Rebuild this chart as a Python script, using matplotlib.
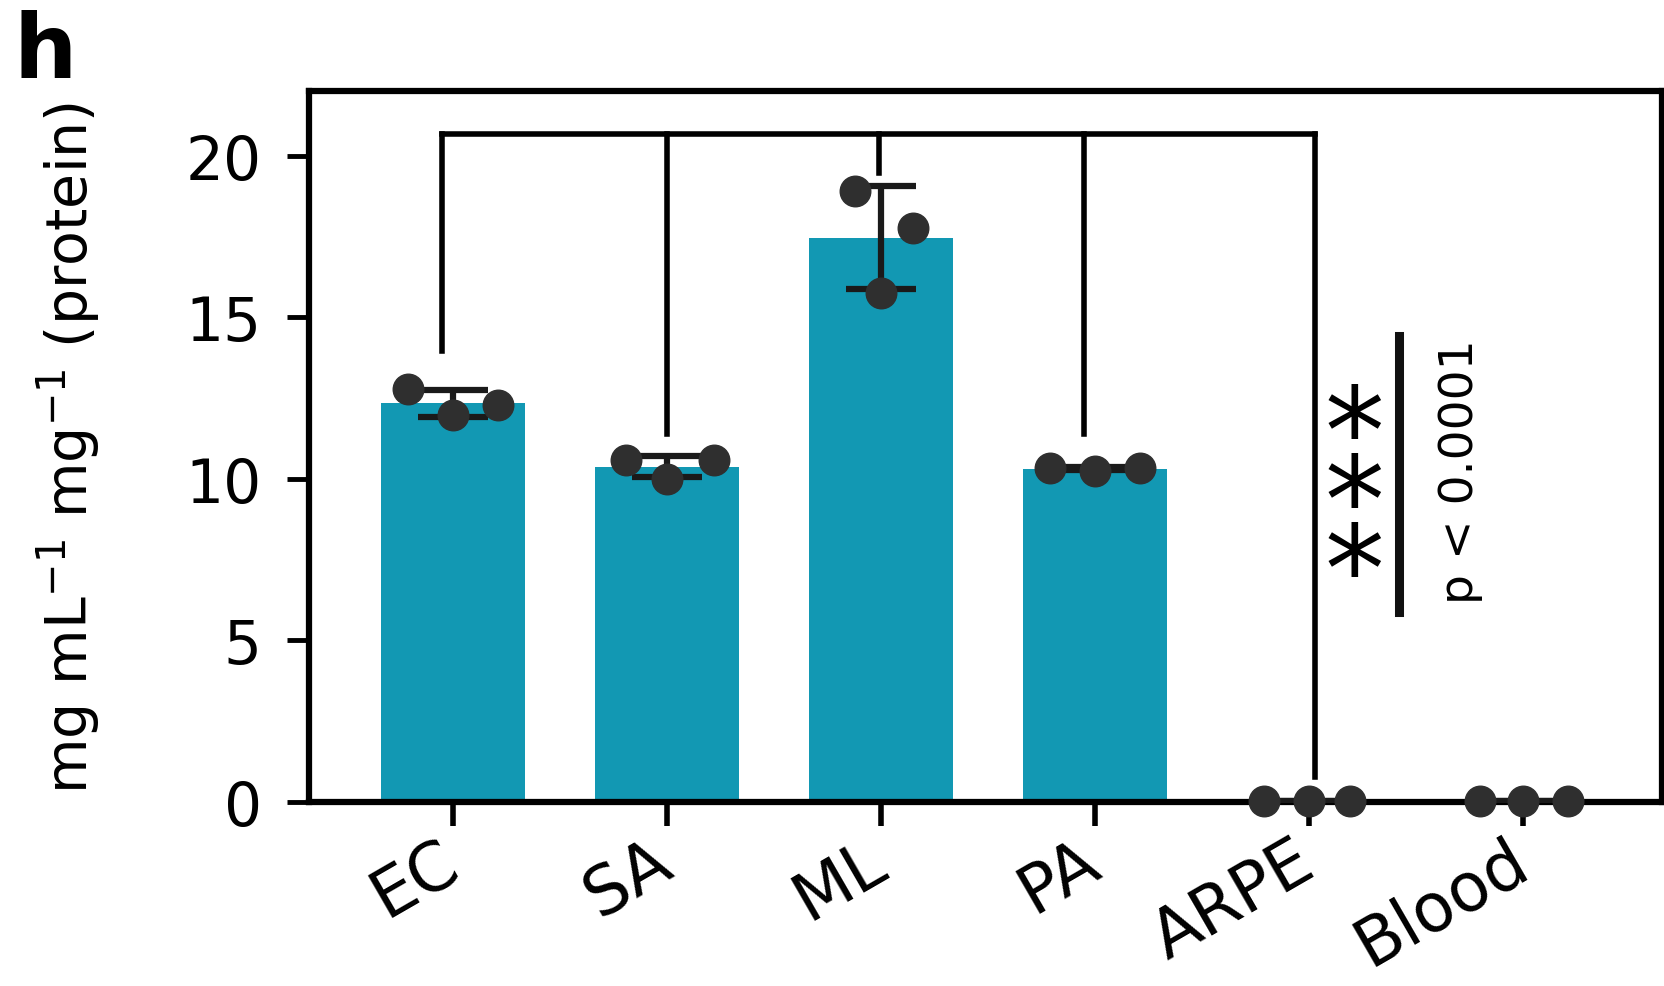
import numpy as np
import matplotlib
matplotlib.use("Agg")
import matplotlib.pyplot as plt
from matplotlib.transforms import ScaledTranslation

plt.rcParams["font.family"] = ["DejaVu Sans"]
plt.rcParams["mathtext.fontset"] = "dejavusans"

# replicate measurements per group (mg mL-1 per mg protein)
categories = ["EC", "SA", "ML", "PA", "ARPE", "Blood"]
ec_vals = [12.79, 11.96, 12.27]
sa_vals = [10.57, 10.00, 10.57]
ml_vals = [18.90, 15.75, 17.75]
pa_vals = [10.35, 10.25, 10.35]
arpe_vals = [0.04, 0.02, 0.03]
blood_vals = [0.04, 0.02, 0.03]
groups = [ec_vals, sa_vals, ml_vals, pa_vals, arpe_vals, blood_vals]

# comparison bracket: each group's leg ends just above its data
bracket_top = 20.68
bracket_legs = [13.96, 11.40, 19.45, 11.40, 0.77]
p_text = "p < 0.0001"
y_ticks = [0, 5, 10, 15, 20]

# horizontal spread of the replicate dots inside each bar
jitter = [[-0.21, 0, 0.21], [-0.19, 0, 0.22], [-0.12, 0, 0.15],
          [-0.21, 0, 0.21], [-0.21, 0, 0.19], [-0.20, 0, 0.21]]
leg_shift = [-0.05, 0.0, -0.01, -0.05, 0.03]

bar_color = "#1298b3"
dot_color = "#2f2f2f"

means = [np.mean(g) for g in groups]
sds = [np.std(g, ddof=1) for g in groups]
x = np.arange(len(categories))

fig = plt.figure(figsize=(16.65, 9.87), dpi=100)
ax = fig.add_axes([0.1856, 0.1864, 0.8126, 0.7204])

ax.bar(x, means, width=0.67, color=bar_color, zorder=1)
ax.errorbar(x, means, yerr=sds, fmt="none", ecolor="#1a1a1a",
            elinewidth=4.5, capsize=25, capthick=4.5, zorder=3)
for i, g in enumerate(groups):
    ax.plot(x[i] + np.array(jitter[i]), g, "o", ms=22, color=dot_color,
            mec=dot_color, zorder=4, clip_on=False)

# bracket over EC..ARPE
lw_br = 4
leg_x = [x[i] + leg_shift[i] for i in range(len(bracket_legs))]
ax.plot([leg_x[0], leg_x[-1]], [bracket_top, bracket_top], color="black",
        lw=lw_br, solid_capstyle="projecting", zorder=2)
for lx, lb in zip(leg_x, bracket_legs):
    ax.plot([lx, lx], [lb, bracket_top], color="black", lw=lw_br, zorder=2)

# significance marker: stacked asterisks, bar and p value
ax.text(4.21, 9.1, "*\n*\n*", fontsize=86, ha="center", va="center",
        linespacing=0.48)
ax.plot([4.42, 4.42], [5.89, 14.42], color="#111111", lw=6.5)
ax.text(4.71, 10.26, p_text, fontsize=34, rotation=90, ha="center",
        va="center")

ax.set_xlim(-0.673, 5.65)
ax.set_ylim(0, 22)
ax.set_yticks(y_ticks)
ax.set_yticklabels([str(t) for t in y_ticks], fontsize=43)
ax.set_xticks(x)
ax.set_xticklabels(categories, fontsize=48, rotation=30, ha="right",
                   rotation_mode="anchor", va="center")
offset = ScaledTranslation(20 / 100, 0, fig.dpi_scale_trans)
for lab in ax.get_xticklabels():
    lab.set_transform(lab.get_transform() + offset)

ax.tick_params(axis="y", length=16, width=3.5, pad=18, direction="out")
ax.tick_params(axis="x", length=17, width=4, pad=22, direction="out")
for s in ax.spines.values():
    s.set_linewidth(4.5)

ax.set_ylabel("mg mL$^{-1}$ mg$^{-1}$ (protein)", fontsize=41)
ax.yaxis.set_label_coords(-0.152, 0.5)

fig.text(0.008, 0.99, "h", fontsize=64, fontweight="bold", ha="left",
         va="top")

fig.savefig("out.png", dpi=100)
